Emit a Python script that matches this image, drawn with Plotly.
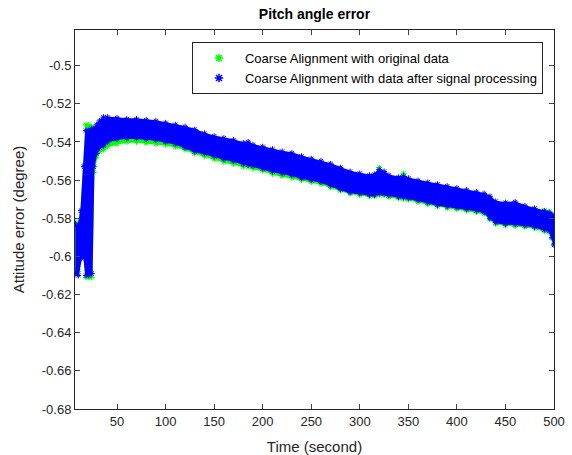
import plotly.graph_objects as go

# Time samples (s) and envelope values
time_s = [7, 10, 13, 16, 18, 21, 24, 26, 29, 32, 36, 40, 50, 60, 70, 80, 90, 100,
          110, 120, 130, 140, 150, 160, 170, 180, 185, 190, 200, 210, 220, 230, 240,
          250, 260, 270, 280, 290, 300, 310, 315, 320, 325, 330, 340, 345, 350, 360,
          370, 380, 390, 400, 410, 420, 428, 434, 440, 450, 460, 470, 480, 490, 495,
          498, 500]

# Processed data (blue): upper / lower envelope of the band
proc_upper = [-0.583, -0.584, -0.576, -0.553, -0.534, -0.534, -0.533, -0.533, -0.531,
              -0.529, -0.527, -0.527, -0.5275, -0.528, -0.528, -0.5285, -0.529, -0.530,
              -0.531, -0.532, -0.5335, -0.5355, -0.537, -0.538, -0.539, -0.5405, -0.540,
              -0.5415, -0.5425, -0.5438, -0.545, -0.5458, -0.5475, -0.5488, -0.550,
              -0.5515, -0.5535, -0.5555, -0.5565, -0.5575, -0.557, -0.5545, -0.5555,
              -0.5575, -0.5585, -0.558, -0.559, -0.5603, -0.5612, -0.5622, -0.5632,
              -0.5642, -0.5652, -0.5662, -0.5671, -0.5685, -0.5712, -0.5718, -0.5715,
              -0.5735, -0.5748, -0.5762, -0.577, -0.578, -0.579]
proc_lower = [-0.609, -0.610, -0.601, -0.600, -0.610, -0.610, -0.609, -0.553, -0.546,
              -0.543, -0.542, -0.540, -0.5385, -0.538, -0.538, -0.5385, -0.539, -0.540,
              -0.541, -0.543, -0.545, -0.546, -0.5475, -0.549, -0.550, -0.5515, -0.552,
              -0.5525, -0.554, -0.5555, -0.5565, -0.5575, -0.559, -0.560, -0.561,
              -0.5628, -0.5648, -0.5665, -0.567, -0.5678, -0.5678, -0.567, -0.5672,
              -0.568, -0.5688, -0.569, -0.5695, -0.5706, -0.5718, -0.573, -0.5738,
              -0.5744, -0.5752, -0.576, -0.5768, -0.580, -0.5822, -0.583, -0.5832,
              -0.5838, -0.5845, -0.586, -0.5865, -0.590, -0.594]

# Original data (green): upper / lower envelope of the band
orig_upper = [-0.582, -0.583, -0.577, -0.552, -0.531, -0.531, -0.532, -0.534, -0.532,
              -0.530, -0.528, -0.528, -0.5285, -0.529, -0.529, -0.5295, -0.530, -0.531,
              -0.532, -0.533, -0.5345, -0.5365, -0.538, -0.539, -0.540, -0.5415, -0.541,
              -0.5425, -0.5435, -0.5448, -0.546, -0.5468, -0.5485, -0.5498, -0.551,
              -0.5525, -0.5545, -0.5565, -0.5575, -0.5585, -0.558, -0.5535, -0.5565,
              -0.5585, -0.5595, -0.5566, -0.560, -0.5613, -0.5622, -0.5632, -0.5642,
              -0.5652, -0.5662, -0.5672, -0.5681, -0.5695, -0.5722, -0.5728, -0.5725,
              -0.5745, -0.5758, -0.576, -0.5765, -0.579, -0.580]
orig_lower = [-0.607, -0.608, -0.600, -0.600, -0.611, -0.611, -0.611, -0.556, -0.548,
              -0.545, -0.544, -0.5425, -0.541, -0.540, -0.540, -0.5405, -0.541, -0.5415,
              -0.5425, -0.544, -0.546, -0.5475, -0.549, -0.5505, -0.5515, -0.553, -0.553,
              -0.554, -0.555, -0.5568, -0.5578, -0.5588, -0.560, -0.561, -0.562,
              -0.5638, -0.5655, -0.567, -0.5678, -0.5685, -0.5685, -0.5678, -0.568,
              -0.5688, -0.5695, -0.5698, -0.5702, -0.5714, -0.5726, -0.5738, -0.5746,
              -0.5752, -0.576, -0.5768, -0.5776, -0.5805, -0.583, -0.5838, -0.584,
              -0.5845, -0.5852, -0.5868, -0.5872, -0.5905, -0.5935]

series_names = ["Coarse Alignment with original data",
                "Coarse Alignment with data after signal processing"]
series_colors = ["#00FF00", "#0000FF"]

x_ticks = [50, 100, 150, 200, 250, 300, 350, 400, 450, 500]
y_ticks = [-0.68, -0.66, -0.64, -0.62, -0.6, -0.58, -0.56, -0.54, -0.52, -0.5]
y_tick_text = ["-0.68", "-0.66", "-0.64", "-0.62", "-0.6", "-0.58", "-0.56", "-0.54",
               "-0.52", "-0.5"]

FONT = "Liberation Sans, Arial, Helvetica, sans-serif"
AX = "#262626"

fig = go.Figure()

bands = [(orig_upper, orig_lower), (proc_upper, proc_lower)]
for (up, lo), name, col in zip(bands, series_names, series_colors):
    fig.add_trace(go.Scatter(
        x=time_s + time_s[::-1], y=up + lo[::-1], mode="lines", fill="toself",
        fillcolor=col, line=dict(color=col, width=1.5), showlegend=False,
        hoverinfo="skip"))
    fig.add_trace(go.Scatter(
        x=time_s + time_s, y=up + lo, mode="markers", showlegend=False,
        marker=dict(symbol="asterisk-open", size=5, color=col,
                    line=dict(color=col, width=1)),
        hoverinfo="skip"))

for name, col in zip(series_names, series_colors):
    fig.add_trace(go.Scatter(
        x=[None], y=[None], mode="markers", name=name,
        marker=dict(symbol="asterisk-open", size=7, color=col,
                    line=dict(color=col, width=1.5))))

fig.update_layout(
    width=572, height=455,
    margin=dict(l=75, r=18, t=30, b=46, autoexpand=False),
    paper_bgcolor="white", plot_bgcolor="white",
    font=dict(family=FONT, size=13, color=AX),
    title=dict(text="<b>Pitch angle error</b>", x=0.5, xref="paper",
               y=1 - 14 / 455, yref="container", yanchor="middle", xanchor="center",
               font=dict(family=FONT, size=14, color="black")),
    showlegend=True,
    legend=dict(x=0.977, y=0.968, xanchor="right", yanchor="top",
                bgcolor="white", bordercolor=AX, borderwidth=1,
                font=dict(family=FONT, size=13, color="black"),
                itemwidth=42, tracegroupgap=0),
    xaxis=dict(range=[6.7, 500], tickvals=x_ticks, ticks="inside", ticklen=5,
               showline=True, linecolor=AX, linewidth=1, mirror="ticks",
               showgrid=False, zeroline=False, tickfont=dict(size=13, color=AX),
               automargin=False,
               title=dict(text="Time (second)", font=dict(size=15, color=AX),
                          standoff=14)),
    yaxis=dict(range=[-0.68, -0.4813], tickvals=y_ticks, ticktext=y_tick_text,
               ticks="inside", ticklen=5, showline=True, linecolor=AX, linewidth=1,
               mirror="ticks", showgrid=False, zeroline=False,
               tickfont=dict(size=13, color=AX), automargin=False,
               title=dict(text="Attitude error (degree)", font=dict(size=15, color=AX),
                          standoff=13)),
)

fig.write_html("out.html")
